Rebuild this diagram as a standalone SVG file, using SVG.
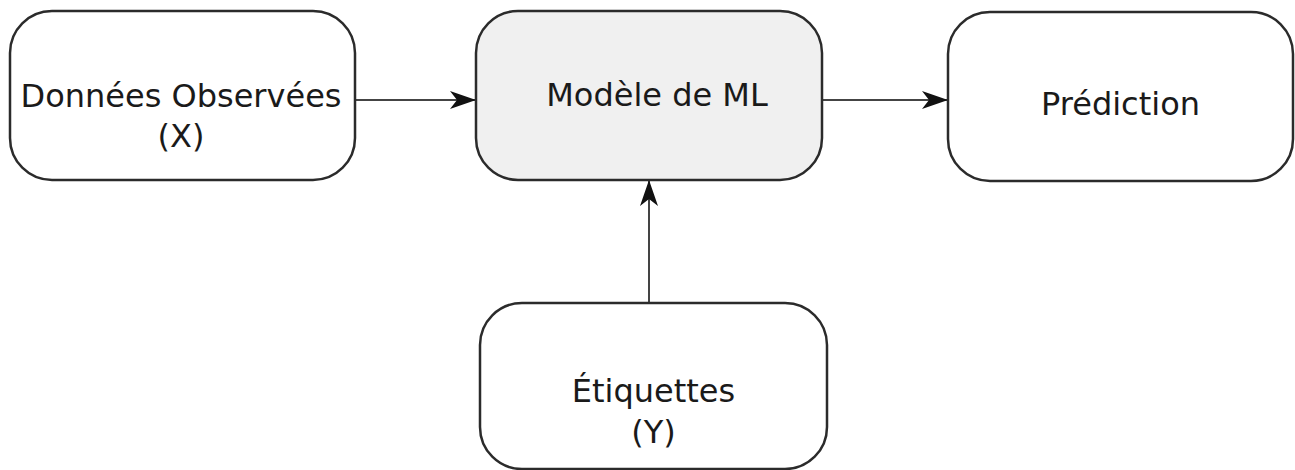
<svg xmlns="http://www.w3.org/2000/svg" width="1295" height="470" viewBox="0 0 1295 470">
<style>
.box{fill:#ffffff;stroke:#2b2b2b;stroke-width:2.5}
.hl{fill:#f0f0f0}
.lbl{font-family:"DejaVu Sans",sans-serif;font-size:32px;fill:#1a1a1a;text-anchor:middle}
.conn{stroke:#444;stroke-width:2;fill:none}
</style>
<defs>
<marker id="ah" markerUnits="userSpaceOnUse" markerWidth="30" markerHeight="20" refX="26" refY="9" orient="auto" viewBox="0 0 30 18">
<path d="M0,0 L26,9 L0,18 L7,9 Z" fill="#111"/>
</marker>
</defs>
<g id="connectors">
<line class="conn" x1="356" y1="100" x2="476" y2="100" marker-end="url(#ah)"/>
<line class="conn" x1="822" y1="100" x2="948" y2="100" marker-end="url(#ah)"/>
<line class="conn" x1="649" y1="303" x2="649" y2="180" marker-end="url(#ah)"/>
</g>
<g id="donnees">
<rect class="box" x="10" y="11" width="345" height="169" rx="42" ry="42"/>
<text class="lbl" x="181" y="107">Données Observées</text>
<text class="lbl" x="181" y="147">(X)</text>
</g>
<g id="modele">
<rect class="box hl" x="476" y="11" width="346" height="169" rx="42" ry="42"/>
<text class="lbl" x="657" y="106">Modèle de ML</text>
</g>
<g id="prediction">
<rect class="box" x="948" y="12" width="345" height="169" rx="42" ry="42"/>
<text class="lbl" x="1120.5" y="115">Prédiction</text>
</g>
<g id="etiquettes">
<rect class="box" x="480" y="303" width="347" height="166" rx="42" ry="42"/>
<text class="lbl" x="653.5" y="402">Étiquettes</text>
<text class="lbl" x="653.5" y="443">(Y)</text>
</g>
</svg>
